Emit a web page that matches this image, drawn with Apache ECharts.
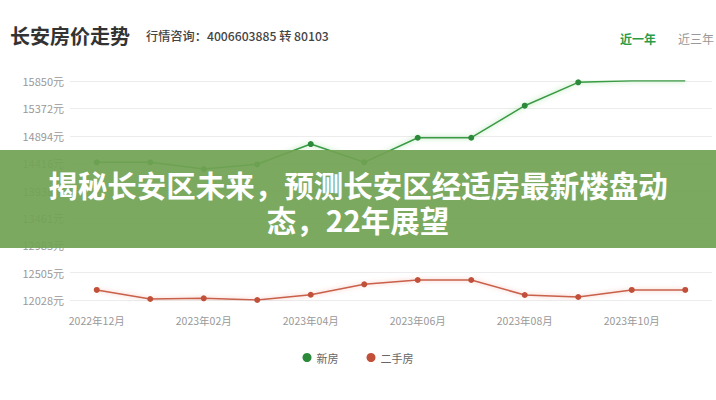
<!DOCTYPE html>
<html><head><meta charset="utf-8">
<script src="https://cdn.jsdelivr.net/npm/echarts@6/dist/echarts.min.js"></script>
<style>html,body{margin:0;padding:0;background:#fff;}#c{width:716px;height:400px;}</style>
</head><body><div id="c"></div>
<script>
const months = ['2022年12月','2023年01月','2023年02月','2023年03月','2023年04月','2023年05月','2023年06月','2023年07月','2023年08月','2023年09月','2023年10月','2023年11月'];
const newHouse = [14431, 14431, 14314, 14396, 14750, 14431, 14860, 14860, 15419, 15827, 15855, 15855];
const resale = [12203, 12045, 12058, 12028, 12120, 12302, 12377, 12377, 12115, 12080, 12203, 12203];
const yTicks = [12028, 12505, 12983, 13461, 13938, 14416, 14894, 15372, 15850];
const seriesNames = ['新房', '二手房'];
const titleText = '长安房价走势';
const phoneText = '行情咨询：4006603885 转 80103';
const tabs = ['近一年', '近三年'];
const bannerText = '揭秘长安区未来，预测长安区经适房最新楼盘动\n态，22年展望';

const font = '"Noto Sans CJK SC", "Noto Sans", sans-serif';
const chart = echarts.init(document.getElementById('c'), null, {renderer: 'svg'});
chart.setOption({
  animation: false,
  textStyle: {fontFamily: font},
  grid: {left: 70, right: 4, top: 81, bottom: 100},
  legend: {
    data: seriesNames, bottom: 32, left: 'center', icon: 'circle',
    itemWidth: 9, itemHeight: 9, itemGap: 28,
    textStyle: {color: '#666', fontSize: 11, fontFamily: font}
  },
  xAxis: {
    type: 'category', data: months, boundaryGap: true,
    axisLine: {show: false}, axisTick: {show: false},
    axisLabel: {interval: 1, color: '#999', fontSize: 10.5, margin: 15, fontFamily: font}
  },
  yAxis: {
    type: 'value', min: yTicks[0], max: yTicks[yTicks.length - 1],
    axisLine: {show: false},
    axisTick: {show: false, customValues: yTicks},
    axisLabel: {customValues: yTicks, color: '#999', fontSize: 11, margin: 6, fontFamily: font,
      formatter: v => v + '元'},
    splitLine: {lineStyle: {color: '#ececec'}}
  },
  series: [
    {name: seriesNames[0], type: 'line', data: newHouse, symbol: 'circle', symbolSize: 6, showSymbol: true, showAllSymbol: true,
      color: '#2f9a3c',
      lineStyle: {width: 1.5, color: '#3a9a44', shadowColor: 'rgba(80,200,80,0.6)', shadowBlur: 5},
      itemStyle: {color: '#2a8a3a', borderWidth: 0}},
    {name: seriesNames[1], type: 'line', data: resale, symbol: 'circle', symbolSize: 6, showSymbol: true, showAllSymbol: true,
      color: '#d9553a',
      lineStyle: {width: 1.5, color: '#c9604a', shadowColor: 'rgba(230,120,100,0.5)', shadowBlur: 4},
      itemStyle: {color: '#c0503a', borderWidth: 0}}
  ],
  graphic: [
    {type: 'text', left: 10, top: 25, style: {text: titleText, fill: '#333', font: 'bold 20px ' + font}},
    {type: 'text', left: 146, top: 30, style: {text: phoneText, fill: '#444', font: '500 12.2px ' + font}},
    {type: 'text', left: 620, top: 32, style: {text: tabs[0], fill: '#2b9b47', font: 'bold 12px ' + font}},
    {type: 'text', left: 678, top: 32, style: {text: tabs[1], fill: '#999', font: '12px ' + font}},
    {type: 'rect', z: 100, shape: {x: 0, y: 150, width: 716, height: 98},
      style: {fill: 'rgba(114,163,84,0.93)'}},
    {type: 'text', z: 101, x: 358, y: 201,
      style: {text: bannerText, fill: '#fff', font: 'bold 29.5px ' + font, align: 'center', verticalAlign: 'middle', lineHeight: 35}}
  ]
});
</script></body></html>
